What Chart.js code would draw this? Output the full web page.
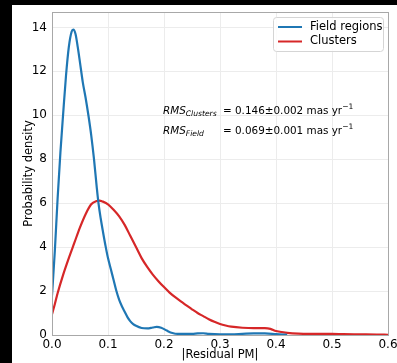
<!DOCTYPE html>
<html>
<head>
<meta charset="utf-8">
<script src="https://cdn.jsdelivr.net/npm/chart.js@4/dist/chart.umd.min.js"></script>
<style>
  html, body { margin: 0; padding: 0; background: #000; }
  #wrap { position: absolute; left: 12px; top: 5px; width: 385px; height: 358px; background: #fff; }
</style>
</head>
<body>
<div id="wrap"><canvas id="kdeChart" width="385" height="358"></canvas></div>
<script>
// KDE of |Residual PM|
const fieldX = [0, 0.005, 0.01, 0.015, 0.02, 0.025, 0.03, 0.035, 0.038, 0.042, 0.046, 0.05, 0.055, 0.06, 0.065, 0.07, 0.075, 0.08, 0.083, 0.087, 0.091, 0.096, 0.1, 0.105, 0.11, 0.115, 0.12, 0.125, 0.13, 0.135, 0.14, 0.145, 0.15, 0.16, 0.17, 0.18, 0.187, 0.195, 0.205, 0.215, 0.225, 0.24, 0.25, 0.26, 0.27, 0.28, 0.3, 0.32, 0.34, 0.36, 0.38, 0.4, 0.42];
const fieldY = [1.8, 3.8, 6.2, 8.3, 10.1, 11.8, 13.1, 13.8, 13.9, 13.7, 13.1, 12.4, 11.5, 10.8, 10.0, 9.1, 8.0, 6.7, 6.0, 5.3, 4.7, 4.0, 3.5, 3.0, 2.5, 2.0, 1.6, 1.3, 1.05, 0.8, 0.62, 0.5, 0.42, 0.32, 0.3, 0.34, 0.37, 0.33, 0.2, 0.09, 0.05, 0.05, 0.05, 0.07, 0.08, 0.05, 0.03, 0.03, 0.05, 0.07, 0.07, 0.04, 0.01];

const clusterX = [0, 0.005, 0.01, 0.02, 0.03, 0.04, 0.05, 0.06, 0.07, 0.08, 0.085, 0.09, 0.1, 0.11, 0.12, 0.13, 0.14, 0.15, 0.16, 0.17, 0.18, 0.19, 0.2, 0.21, 0.22, 0.23, 0.24, 0.25, 0.26, 0.27, 0.28, 0.29, 0.3, 0.31, 0.32, 0.34, 0.36, 0.38, 0.39, 0.4, 0.42, 0.44, 0.46, 0.48, 0.5, 0.52, 0.55, 0.58, 0.6];
const clusterY = [0.95, 1.4, 1.9, 2.75, 3.5, 4.2, 4.9, 5.5, 5.95, 6.1, 6.12, 6.08, 5.95, 5.7, 5.4, 5.0, 4.5, 4.0, 3.5, 3.1, 2.75, 2.45, 2.18, 1.93, 1.72, 1.53, 1.35, 1.17, 1.0, 0.86, 0.72, 0.6, 0.5, 0.43, 0.38, 0.33, 0.31, 0.31, 0.28, 0.18, 0.1, 0.06, 0.05, 0.05, 0.05, 0.04, 0.03, 0.02, 0.01];

const seriesLabels = ['Field regions', 'Clusters'];
const xTicks = [0, 0.1, 0.2, 0.3, 0.4, 0.5, 0.6];
const yTicks = [0, 2, 4, 6, 8, 10, 12, 14];
const rmsLines = [
    { sub: 'Clusters', text: '= 0.146±0.002 mas yr' },
    { sub: 'Field', text: '= 0.069±0.001 mas yr' }
];

function toPoints(xs, ys) {
    return xs.map((x, i) => ({ x: x, y: ys[i] }));
}

const FONT = 'DejaVu Sans';

// frame around the plot area (matplotlib spines)
const framePlugin = {
    id: 'frame',
    afterDatasetsDraw(chart) {
        const a = chart.chartArea, ctx = chart.ctx;
        ctx.save();
        ctx.strokeStyle = '#a8a8a8';
        ctx.lineWidth = 1;
        ctx.strokeRect(a.left + 0.5, a.top + 0.5, a.right - a.left, a.bottom - a.top);
        ctx.restore();
    }
};

// legend inside upper right + RMS text
const overlayPlugin = {
    id: 'overlay',
    afterDraw(chart) {
        const ctx = chart.ctx, a = chart.chartArea;
        ctx.save();
        const bx = a.right - 115, by = a.top + 5, bw = 110, bh = 34;
        ctx.fillStyle = 'rgba(255,255,255,0.85)';
        ctx.strokeStyle = '#d5d5d5';
        ctx.lineWidth = 1;
        ctx.beginPath();
        ctx.roundRect(bx + 0.5, by + 0.5, bw, bh, 3);
        ctx.fill();
        ctx.stroke();
        ctx.font = '11.5px "' + FONT + '"';
        ctx.textBaseline = 'middle';
        chart.data.datasets.forEach((ds, i) => {
            const yy = by + 10 + i * 14.5;
            ctx.strokeStyle = ds.borderColor;
            ctx.lineWidth = 2;
            ctx.beginPath();
            ctx.moveTo(bx + 5, yy);
            ctx.lineTo(bx + 29, yy);
            ctx.stroke();
            ctx.fillStyle = '#000';
            ctx.fillText(ds.label, bx + 37, yy);
        });

        // RMS annotation
        const tx = 151, eqx = 211;
        rmsLines.forEach((r, i) => {
            const yy = 105 + i * 19.5;
            ctx.fillStyle = '#000';
            ctx.textBaseline = 'alphabetic';
            ctx.font = 'italic 10.4px "' + FONT + '"';
            ctx.fillText('RMS', tx, yy + 4);
            const w = ctx.measureText('RMS').width;
            ctx.font = 'italic 7.6px "' + FONT + '"';
            ctx.fillText(r.sub, tx + w, yy + 6);
            ctx.font = '10.4px "' + FONT + '"';
            ctx.fillText(r.text, eqx, yy + 4);
            const w2 = ctx.measureText(r.text).width;
            ctx.font = '7.6px "' + FONT + '"';
            ctx.fillText('\u22121', eqx + w2, yy - 1);
        });
        ctx.restore();
    }
};

const ctx = document.getElementById('kdeChart').getContext('2d');
const myChart = new Chart(ctx, {
    type: 'line',
    data: {
        datasets: [{
            label: seriesLabels[0],
            data: toPoints(fieldX, fieldY),
            borderColor: '#1f77b4',
            borderWidth: 2.2,
            pointRadius: 0,
            cubicInterpolationMode: 'monotone',
            fill: false
        }, {
            label: seriesLabels[1],
            data: toPoints(clusterX, clusterY),
            borderColor: '#d62728',
            borderWidth: 2.2,
            pointRadius: 0,
            cubicInterpolationMode: 'monotone',
            fill: false
        }]
    },
    options: {
        responsive: false,
        animation: false,
        layout: { padding: { left: 0, top: 7, right: 9, bottom: 0 } },
        scales: {
            x: {
                type: 'linear',
                min: 0,
                max: 0.6,
                afterBuildTicks: s => { s.ticks = xTicks.map(v => ({ value: v })); },
                afterFit: s => { s.height = 28; s.paddingLeft = 0; s.paddingRight = 0; },
                grid: { color: '#ececec', drawTicks: false },
                border: { display: false },
                ticks: {
                    padding: 3,
                    color: '#000',
                    font: { family: FONT, size: 12 },
                    callback: v => v.toFixed(1)
                },
                title: {
                    display: true,
                    text: '|Residual PM|',
                    color: '#000',
                    padding: { top: 0, bottom: 1 },
                    font: { family: FONT, size: 11.5 }
                }
            },
            y: {
                min: 0,
                max: 14.7,
                afterBuildTicks: s => { s.ticks = yTicks.map(v => ({ value: v })); },
                afterFit: s => { s.width = 40; s.paddingTop = 0; s.paddingBottom = 0; },
                grid: { color: '#ececec', drawTicks: false },
                border: { display: false },
                ticks: {
                    padding: 5,
                    color: '#000',
                    font: { family: FONT, size: 12 }
                },
                title: {
                    display: true,
                    text: 'Probability density',
                    color: '#000',
                    padding: { top: 10, bottom: 0 },
                    font: { family: FONT, size: 11.5 }
                }
            }
        },
        plugins: {
            legend: { display: false },
            tooltip: { enabled: false }
        }
    },
    plugins: [framePlugin, overlayPlugin]
});
</script>
</body>
</html>
